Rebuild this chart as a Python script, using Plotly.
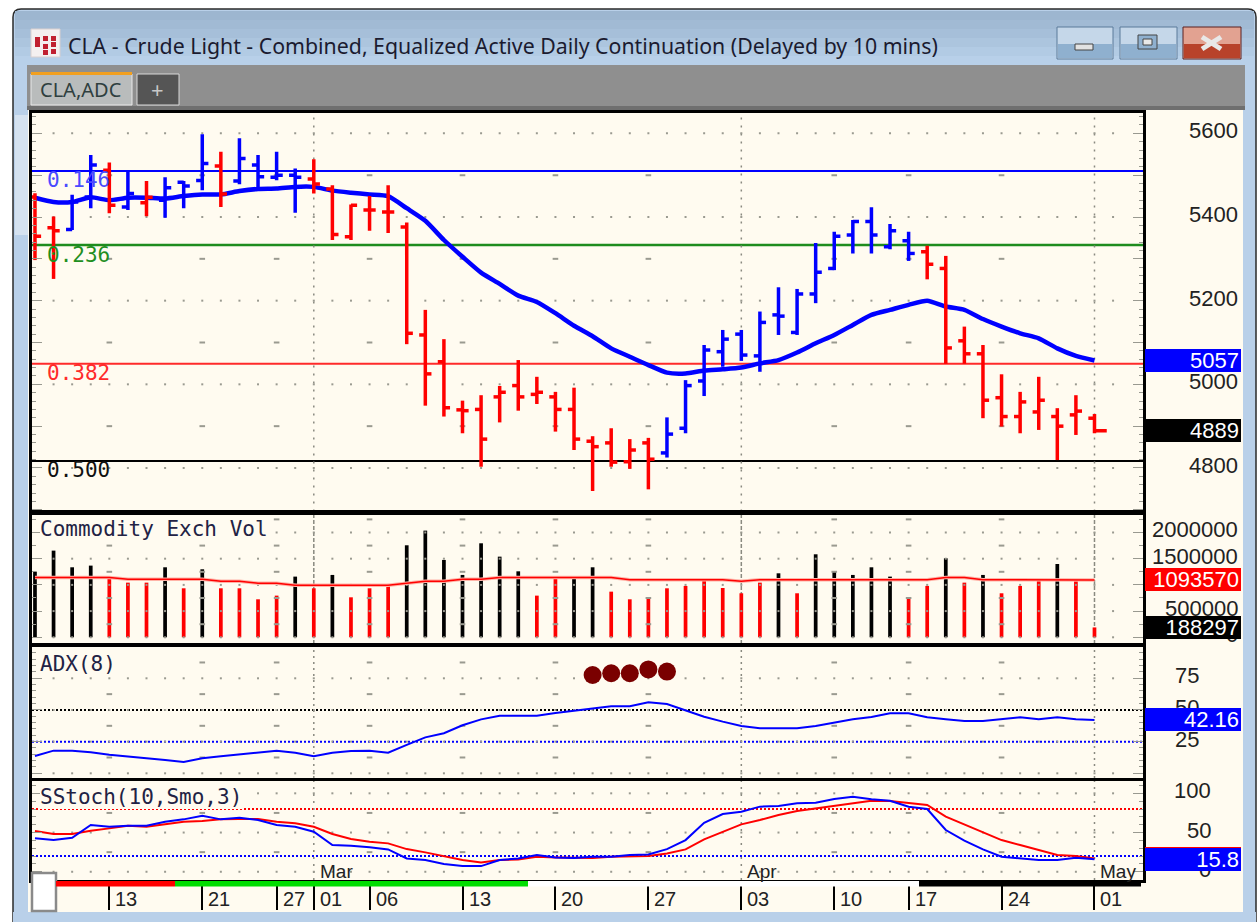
import plotly.graph_objects as go

W, H = 1258, 922

# ---------- data ----------
highs = [5457,5401,5453,5548,5530,5512,5486,5495,5486,5598,5556,5588,5548,5556,5516,5538,5476,5430,5450,5476,
         5387,5178,5108,4961,4974,4996,5058,5018,4982,4992,4876,4895,4869,4872,4921,5010,5094,5130,5130,5174,
         5232,5228,5338,5365,5393,5423,5383,5365,5331,5307,5138,5094,5024,4982,5018,4943,4974,4929]
lows = [5297,5252,5369,5421,5409,5417,5402,5398,5421,5464,5424,5478,5469,5488,5410,5456,5345,5345,5367,5362,
        5096,4949,4923,4883,4803,4909,4937,4953,4887,4843,4745,4803,4798,4749,4825,4883,4972,5042,5056,5030,
        5118,5118,5194,5273,5313,5313,5323,5295,5251,5049,5049,4919,4899,4883,4891,4819,4879,4883]
opens = [5448,5374,5370,5448,5512,5424,5434,5440,5483,5487,5522,5486,5524,5495,5500,5491,5467,5353,5417,5412,
         5376,5118,5054,4939,4940,4970,4997,4976,4970,4940,4864,4860,4815,4860,4836,4895,5008,5078,5120,5068,
         5166,5124,5216,5277,5357,5389,5329,5343,5317,5277,5104,5073,4968,4923,4934,4923,4927,4919]
closes = [5354,5367,5436,5524,5428,5456,5447,5470,5474,5528,5455,5540,5496,5500,5495,5479,5358,5428,5417,5412,
          5122,5025,4944,4937,4869,4981,4970,4981,4940,4869,4851,4814,4843,4821,4881,4997,5082,5108,5070,5148,
          5163,5216,5268,5354,5389,5357,5367,5313,5287,5087,5073,4962,4923,4958,4962,4900,4936,4889]
blue_bars = [2,3,5,7,8,9,11,12,13,14,34,35,36,37,38,39,40,41,42,43,44,45,46,47]
price_ma = [5446,5436,5436,5447,5440,5446,5446,5444,5450,5454,5454,5462,5467,5468,5472,5472,5463,5458,5454,5450,
            5421,5391,5345,5305,5267,5240,5212,5197,5170,5140,5115,5086,5066,5046,5028,5026,5033,5036,5040,5050,
            5058,5076,5098,5118,5142,5166,5178,5190,5200,5186,5178,5156,5138,5122,5110,5086,5068,5057]
fib_levels = [5510,5333,5049,4817]
fib_names = ["0.146","0.236","0.382","0.500"]
fib_colors = ["#0000ff","#1e8c1e","#ff2a2a","#000000"]
fib_text = ["#4a4aff","#1f8f1f","#ff2a2a","#111111"]

volume = [1253000,1654000,1336000,1368000,1126000,1043000,1043000,1336000,935000,1298000,935000,935000,725000,795000,1158000,
          935000,1190000,763000,935000,986000,1756000,2036000,1476000,1190000,1794000,1539000,1259000,795000,1126000,1158000,
          1336000,871000,725000,763000,935000,980000,1094000,941000,840000,1043000,1221000,840000,1584000,1253000,1190000,
          1336000,1158000,744000,980000,1508000,1043000,1190000,840000,980000,1094000,1399000,1094000,188297]
black_volume = [0,1,2,3,7,9,14,16,20,21,22,23,24,25,26,29,30,40,42,43,44,45,46,49,51,55]
volume_ma = [1139000,1139000,1139000,1139000,1139000,1107000,1107000,1107000,1107000,1107000,1069000,1069000,1031000,1031000,992000,
             992000,992000,992000,992000,992000,1031000,1069000,1069000,1107000,1107000,1139000,1139000,1139000,1139000,1139000,
             1139000,1139000,1100000,1100000,1100000,1100000,1100000,1100000,1069000,1100000,1100000,1100000,1100000,1100000,1100000,
             1100000,1100000,1100000,1100000,1139000,1139000,1100000,1100000,1100000,1100000,1100000,1100000,1093570]

adx = [13.7,17.9,17.9,16.6,14.7,13.4,12.1,10.5,8.9,11.8,13.4,14.7,16.3,17.9,16.3,13.4,16.3,17.6,17.9,16.3,
       22.4,28.4,31.6,37.9,42.6,45.5,45.5,45.5,47.6,49.2,51.3,52.9,52.9,56,54.7,49.5,44.7,40.8,37.4,35.5,
       35.5,35.5,37.4,40,42.6,44.5,47.4,47.4,44.2,42.6,41.3,41.3,42.6,44.2,42.6,44.2,42.6,42.16]
adx_dot_x = [30,31,32,33,34]
adx_dot_y = [77.6,79,79,82,80.3]

stoch_k = [42.6,40.4,43.4,59.6,57.4,58.7,58.7,63.8,66.8,71.5,66.8,68.9,66,59.6,57.4,51.1,34,33.2,31.1,28.5,
           17,14.9,9.8,7.2,7.2,14.9,17,21.3,18.3,17.4,19.1,19.1,21.3,22.1,28.9,40.4,62.5,73.6,76.6,83,
           83.8,87.2,88.1,92.8,95.7,92.3,90.6,83,80,53.2,39.6,28.5,19.1,17.4,14.9,14.9,17.9,15.8]
stoch_d = [51.9,48.1,48.1,52.3,55.3,58.7,57.4,60.4,63.8,64.7,66.8,67.2,67.2,63.8,61.7,57.4,48.1,41.7,38.3,36.2,
           28.9,24.7,20,14.9,11.9,14.9,15.7,19.1,18.3,17.4,17.4,19.1,20,20,23.4,28.5,41.3,51.1,60.4,66,
           72.3,77.4,80.8,84.2,88.1,90.6,90.2,87.2,85.1,70.2,60.4,51.1,40.4,34,27.7,21.3,20,17]

date_idx = [4,9,13,15,18,23,28,33,38,43,47,52,57]
date_labels = ["13","21","27","01","06","13","20","27","03","10","17","24","01"]
month_idx = [15,38,57]
month_labels = ["Mar","Apr","May"]
mid_idx = [4,9,13,18,23,28,33,43,47,52]

price_ticks = [5600,5400,5200,5000,4800]
vol_ticks = [2000000,1500000,1000000,500000,0]
vol_labels = [2000000,1500000,500000,0]
adx_ticks = [75,50,25]
stoch_ticks = [100,50,0]

TITLE = "CLA - Crude Light - Combined, Equalized Active Daily Continuation (Delayed by 10 mins)"
CREAM = "#FFFBF0"
MONO = "DejaVu Sans Mono"
n = len(closes)
xs = list(range(n))

# ---------- helpers ----------
def fx(p): return p / W
def fy(p): return 1 - p / H

def rect(x0, y0, x1, y1, fill, line=None, lw=1):
    return dict(type="rect", xref="paper", yref="paper", x0=fx(x0), x1=fx(x1), y0=fy(y1), y1=fy(y0),
                fillcolor=fill, line=dict(color=line or "rgba(0,0,0,0)", width=lw if line else 0), layer="below")

def seg(x0, y0, x1, y1, color, lw=1, layer="above"):
    return dict(type="line", xref="paper", yref="paper", x0=fx(x0), x1=fx(x1), y0=fy(y0), y1=fy(y1),
                line=dict(color=color, width=lw), layer=layer)

def text(x, y, s, size, color, font="Liberation Sans", anchor="left"):
    return dict(xref="paper", yref="paper", x=fx(x), y=fy(y), text=s, showarrow=False, xanchor=anchor, yanchor="middle",
                font=dict(family=font, size=size, color=color), borderpad=0, borderwidth=0)

def axis_label(yref, val, s, right, size=22):
    return dict(xref="paper", yref=yref, x=fx(right), y=val, yshift=2.5, text=s, showarrow=False, xanchor="right",
                yanchor="middle", font=dict(family="Liberation Sans", size=size, color="#222222"),
                borderpad=0, borderwidth=0)

def value_box(yref, val, s, bg, size=22, color="#ffffff"):
    return dict(xref="paper", yref=yref, x=fx(1241), y=val, text=s, showarrow=False, xanchor="right", yanchor="middle",
                width=92, height=19, align="right", bgcolor=bg, borderpad=2, borderwidth=0,
                font=dict(family="Liberation Sans", size=size, color=color))

def ohlc_path(idx):
    px, py = [], []
    tw = 0.33
    for i in idx:
        rt = 0.66 if i == n - 1 else tw
        px += [i - tw, i, None, i, i, None, i, i + rt, None]
        py += [opens[i], opens[i], None, highs[i], lows[i], None, closes[i], closes[i], None]
    return px, py

# ---------- figure ----------
fig = go.Figure()
GRID = "#9a9a90"

def add_grid(xa, ya, rows, mids):
    fig.add_trace(go.Scatter(x=[i for _ in rows for i in range(1, 59)],
                             y=[r for r in rows for _ in range(1, 59)], xaxis=xa, yaxis=ya, mode="markers",
                             marker=dict(symbol="square", size=2, color=GRID), hoverinfo="skip", showlegend=False))
    fig.add_trace(go.Scatter(x=[i for _ in mids for i in mid_idx], y=[r for r in mids for _ in mid_idx],
                             xaxis=xa, yaxis=ya, mode="markers",
                             marker=dict(symbol="line-ew", size=4, line=dict(color=GRID, width=2)),
                             hoverinfo="skip", showlegend=False))

add_grid("x", "y", price_ticks, [5500,5300,5100,4900])
add_grid("x2", "y2", vol_ticks, [2250000,1750000,1250000,750000,250000])
add_grid("x3", "y3", [75,50,25,0], [87.5,62.5,37.5,12.5])
add_grid("x4", "y4", stoch_ticks, [75,25])

# price
fig.add_trace(go.Scatter(x=xs, y=price_ma, xaxis="x", yaxis="y", mode="lines",
                         line=dict(color="#0000ff", width=4.5, shape="spline", smoothing=0.6),
                         hoverinfo="skip", showlegend=False))
bx, by = ohlc_path(blue_bars)
rx, ry = ohlc_path([i for i in xs if i not in blue_bars])
fig.add_trace(go.Scatter(x=rx, y=ry, xaxis="x", yaxis="y", mode="lines",
                         line=dict(color="#ff0000", width=3.5), hoverinfo="skip", showlegend=False))
fig.add_trace(go.Scatter(x=bx, y=by, xaxis="x", yaxis="y", mode="lines",
                         line=dict(color="#0000ff", width=3.5), hoverinfo="skip", showlegend=False))

# volume
fig.add_trace(go.Bar(x=xs, y=volume, xaxis="x2", yaxis="y2", width=0.2,
                     marker=dict(color=["#000000" if i in black_volume else "#ff0000" for i in xs], line=dict(width=0)),
                     hoverinfo="skip", showlegend=False))
fig.add_trace(go.Scatter(x=xs, y=volume_ma, xaxis="x2", yaxis="y2", mode="lines",
                         line=dict(color="#ffb4a8", width=3.5), hoverinfo="skip", showlegend=False))
fig.add_trace(go.Scatter(x=xs, y=volume_ma, xaxis="x2", yaxis="y2", mode="lines",
                         line=dict(color="#ff0000", width=1.5), hoverinfo="skip", showlegend=False))

# ADX
fig.add_trace(go.Scatter(x=xs, y=adx, xaxis="x3", yaxis="y3", mode="lines",
                         line=dict(color="#0000ff", width=2), hoverinfo="skip", showlegend=False))
fig.add_trace(go.Scatter(x=adx_dot_x, y=adx_dot_y, xaxis="x3", yaxis="y3", mode="markers",
                         marker=dict(color="#7a0000", size=18), hoverinfo="skip", showlegend=False))

# Stochastic
fig.add_trace(go.Scatter(x=xs, y=stoch_d, xaxis="x4", yaxis="y4", mode="lines",
                         line=dict(color="#ff0000", width=2), hoverinfo="skip", showlegend=False))
fig.add_trace(go.Scatter(x=xs, y=stoch_k, xaxis="x4", yaxis="y4", mode="lines",
                         line=dict(color="#0000ff", width=2), hoverinfo="skip", showlegend=False))

# ---------- chrome ----------
shapes = []
shapes.append(dict(type="path", xref="paper", yref="paper", layer="below",
                   path=f"M {fx(13)} {fy(922)} L {fx(13)} {fy(17)} Q {fx(13)} {fy(9)} {fx(21)} {fy(9)} "
                        f"L {fx(1248)} {fy(9)} Q {fx(1256)} {fy(9)} {fx(1256)} {fy(17)} L {fx(1256)} {fy(922)} Z",
                   fillcolor="#b9d0e9", line=dict(color="#2a2a2a", width=1.5)))
title_cols = ["#9db6d0", "#a1bad4", "#a6bfd9", "#acc5de", "#b2cbe4", "#b8d0e9"]
for k, c in enumerate(title_cols):
    shapes.append(rect(15, 11 + k * 9, 1254, 20 + k * 9, c))
shapes.append(rect(15, 115, 29, 235, "#d5e2f0"))
shapes.append(rect(27, 65, 1245, 106, "#8f8f8f"))
shapes.append(rect(27, 106, 1245, 110, "#6f6f6f"))
shapes.append(rect(28, 110, 1243, 912, CREAM))
shapes.append(rect(13, 912, 1256, 922, "#b9d0e9"))
shapes.append(rect(31, 74, 132, 105, "#b9bcbc", "#e8e8e8"))
shapes.append(rect(31, 72, 132, 75, "#f2a020"))
shapes.append(rect(137, 74, 179, 105, "#555555", "#d8d8d8"))

# window buttons
for x0, x1, top, bot, edge in [(1057, 1113, "#c5d7e9", "#8fb0cf", "#5a7a9a"),
                               (1120, 1177, "#c5d7e9", "#8fb0cf", "#5a7a9a"),
                               (1183, 1241, "#e2a291", "#b8422a", "#5a2020")]:
    shapes.append(rect(x0, 27, x1, 59, top, edge, 1))
    shapes.append(rect(x0 + 1, 44, x1 - 1, 58, bot))
shapes.append(rect(1075, 44, 1093, 50, "#e2e2e2", "#444444", 1))
shapes.append(rect(1138, 35, 1157, 49, "#8fb0cf", "#444444", 1))
shapes.append(rect(1143, 39, 1152, 45, "#e8e8e8", "#444444", 1))
shapes.append(seg(1202, 37, 1221, 49, "#e8e8e8", 5))
shapes.append(seg(1202, 49, 1221, 37, "#e8e8e8", 5))

# app icon
shapes.append(rect(31, 29, 60, 57, "#f4f0f0", "#d8d0d0", 1))
for x0, y0 in [(35, 37), (43, 36), (51, 36), (35, 42), (43, 44), (51, 42), (43, 50), (51, 49)]:
    shapes.append(rect(x0, y0, x0 + 5, y0 + 5, "#c02030"))

# fib lines
for v, c in zip(fib_levels, fib_colors):
    shapes.append(dict(type="line", xref="x domain", yref="y", x0=0, x1=1, y0=v, y1=v,
                       line=dict(color=c, width=2 if c != "#1e8c1e" else 2.5), layer="below"))
# indicator levels
for lvl, c, ya in [(50, "#000000", "y3"), (25, "#0000ff", "y3"), (80, "#ff0000", "y4"), (20, "#0000ff", "y4")]:
    shapes.append(dict(type="line", xref=("x3" if ya == "y3" else "x4") + " domain", yref=ya, x0=0, x1=1, y0=lvl, y1=lvl,
                       line=dict(color=c, width=2, dash="2px 2px"), layer="below"))
# month separators
for i in month_idx:
    for xa, ya, d in [("x", "y", "2px 6px"), ("x2", "y2", "4px 2px"), ("x3", "y3", "2px 4px"), ("x4", "y4", "2px 5px")]:
        shapes.append(dict(type="line", xref=xa, yref=ya + " domain", x0=i, x1=i, y0=0, y1=1,
                           line=dict(color="#8a8a80", width=1.5, dash=d), layer="below"))
# navigation strip
shapes.append(rect(32, 873, 56, 911, "#ffffff", "#8a8a8a", 2.5) | {"layer": "above"})
for x0, x1, c in [(56, 175, "#ff0000"), (175, 528, "#00dd00"), (528, 919, "#ffffff"), (919, 1141, "#000000")]:
    shapes.append(rect(x0, 881, x1, 886.5, c) | {"layer": "above"})

# ---------- annotations ----------
ann = [text(68, 45, TITLE, 21.3, "#1b1b30", "Noto Sans"),
       text(40, 89, "CLA,ADC", 20, "#2f3f3f", "Noto Sans"),
       text(158, 89, "+", 22, "#c8c8c8", "Noto Sans", "center")]

for v, s, c in zip(fib_levels, fib_names, fib_text):
    ann.append(dict(xref="paper", yref="y", x=fx(46), y=v, yshift=-9.5, text=s, showarrow=False, xanchor="left",
                    yanchor="middle", borderpad=0, font=dict(family=MONO, size=21, color=c)))

for lbl, y in [("Commodity Exch Vol", 529), ("ADX(8)", 664), ("SStoch(10,Smo,3)", 797)]:
    a = text(40, y, lbl, 21, "#222244", MONO)
    a["bgcolor"] = CREAM
    ann.append(a)

for i, s in zip(date_idx, date_labels):
    ann.append(dict(xref="x4", yref="paper", x=i, y=fy(899), xshift=5, text=s, showarrow=False, xanchor="left",
                    yanchor="middle", borderpad=0, font=dict(family="Liberation Sans", size=20, color="#222222")))
for i, s in zip(month_idx, month_labels):
    ann.append(dict(xref="x4", yref="paper", x=i, y=fy(871), xshift=5, text=s, showarrow=False, xanchor="left",
                    yanchor="middle", borderpad=0, font=dict(family="Liberation Sans", size=19, color="#222222")))

for v in price_ticks:
    ann.append(axis_label("y", v, str(v), 1238))
for v in vol_labels:
    ann.append(axis_label("y2", v, str(v), 1238))
for v in adx_ticks:
    ann.append(axis_label("y3", v, str(v), 1199))
for v in stoch_ticks:
    ann.append(axis_label("y4", v, str(v), 1211))

ann.append(value_box("y", price_ma[-1], str(price_ma[-1]), "#0000ff"))
ann.append(value_box("y", closes[-1], str(closes[-1]), "#000000"))
ann.append(value_box("y2", volume_ma[-1], str(volume_ma[-1]), "#ff0000"))
ann.append(value_box("y2", volume[-1], str(volume[-1]), "#000000"))
ann.append(value_box("y3", adx[-1], f"{adx[-1]:.2f}", "#0000ff"))
ann.append(value_box("y4", stoch_d[-1], " ", "#ff0000"))
ann.append(value_box("y4", stoch_k[-1], f"{stoch_k[-1]:.1f}", "#0000ff"))

# ---------- axes ----------
XR = [-0.16, 59.61]
DX = [fx(32), fx(1143)]
def xax(anchor, **kw):
    d = dict(domain=DX, range=XR, anchor=anchor, showgrid=False, zeroline=False, showline=True, linecolor="#000000",
             linewidth=3, mirror=True, showticklabels=False, ticks="")
    d.update(kw)
    return d

def yax(anchor, top, bottom, rng, dtick, tick0, minor_dtick):
    return dict(domain=[fy(bottom), fy(top)], range=rng, anchor=anchor, side="right", showgrid=False, zeroline=False,
                showline=True, linecolor="#000000", linewidth=3, mirror="allticks", showticklabels=False,
                ticks="inside", ticklen=10, tickwidth=1, tickcolor="#999990", tick0=tick0, dtick=dtick,
                minor=dict(ticks="inside", ticklen=4, tickwidth=1, tickcolor="#999990", tick0=tick0, dtick=minor_dtick))

fig.update_layout(
    width=W, height=H, autosize=False, margin=dict(l=0, r=0, t=0, b=0, pad=0),
    paper_bgcolor="#ffffff", plot_bgcolor=CREAM, showlegend=False, dragmode=False, barmode="overlay",
    shapes=shapes, annotations=ann,
    xaxis=xax("y"), xaxis2=xax("y2"), xaxis3=xax("y3"),
    xaxis4=xax("y4", ticks="outside", ticklen=27, tickwidth=2, tickcolor="#000000", tickmode="array", tickvals=date_idx),
    yaxis=yax("x", 113, 511.5, [4696, 5648.6], 100, 4800, 20),
    yaxis2=yax("x2", 513, 644, [-128000, 2372000], 500000, 0, 250000),
    yaxis3=yax("x3", 646, 778, [-3.7, 100.5], 25, 0, 5),
    yaxis4=yax("x4", 781, 880, [-10.5, 115.7], 50, 0, 10),
)

fig.write_html("out.html", config=dict(displayModeBar=False, staticPlot=True),
               post_script="document.body.style.margin='0';document.body.style.overflow='hidden';")
